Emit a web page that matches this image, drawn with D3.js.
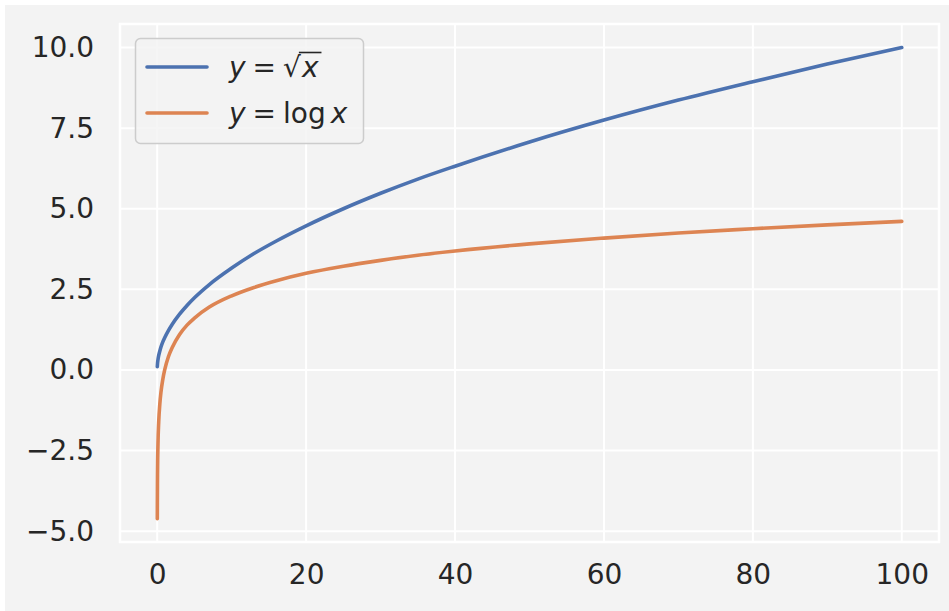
<!DOCTYPE html>
<html>
<head>
<meta charset="utf-8">
<title>sqrt and log</title>
<script src="https://cdn.jsdelivr.net/npm/d3@7"></script>
<style>
  body { margin: 0; background: #ffffff; }
  text { font-family: "DejaVu Sans", sans-serif; fill: #262626; }
</style>
</head>
<body>
<div id="chart"></div>
<script>
// values
var xs      = [0.01, 0.03, 0.1, 0.2, 0.35, 0.5, 0.75, 1, 1.5, 2, 3, 4, 5, 7, 10, 13, 16, 20, 25, 30, 35, 40, 50, 60, 70, 80, 90, 100];
var sqrtY   = [0.1, 0.17, 0.32, 0.45, 0.59, 0.71, 0.87, 1, 1.22, 1.41, 1.73, 2, 2.24, 2.65, 3.16, 3.61, 4, 4.47, 5, 5.48, 5.92, 6.32, 7.07, 7.75, 8.37, 8.94, 9.49, 10];
var logY    = [-4.61, -3.51, -2.3, -1.61, -1.05, -0.69, -0.29, 0, 0.41, 0.69, 1.1, 1.39, 1.61, 1.95, 2.3, 2.56, 2.77, 3.0, 3.22, 3.4, 3.56, 3.69, 3.91, 4.09, 4.25, 4.38, 4.5, 4.61];
var xTicks  = [0, 20, 40, 60, 80, 100];
var yTicks  = [-5, -2.5, 0, 2.5, 5, 7.5, 10];

var W = 949, H = 611;
var plotL = 120, plotR = 939, plotT = 24, plotB = 542;

var svg = d3.select("#chart").append("svg")
    .attr("width", W)
    .attr("height", H);

// figure + axes background
svg.append("rect").attr("x", 5).attr("y", 5).attr("width", W - 5).attr("height", H - 5).attr("fill", "#f3f3f3");
svg.append("rect")
    .attr("x", plotL).attr("y", plotT)
    .attr("width", plotR - plotL).attr("height", plotB - plotT)
    .attr("fill", "#f3f3f3")
    .attr("stroke", "#ffffff")
    .attr("stroke-width", 2.5);

var x = d3.scaleLinear().domain([-5.0, 105.0]).range([plotL, plotR]);
var y = d3.scaleLinear().domain([-5.335, 10.73]).range([plotB, plotT]);

// grid
svg.append("g").selectAll("line").data(xTicks).enter().append("line")
    .attr("x1", function(d) { return x(d); }).attr("x2", function(d) { return x(d); })
    .attr("y1", plotT).attr("y2", plotB)
    .attr("stroke", "#ffffff").attr("stroke-width", 2);
svg.append("g").selectAll("line").data(yTicks).enter().append("line")
    .attr("x1", plotL).attr("x2", plotR)
    .attr("y1", function(d) { return y(d); }).attr("y2", function(d) { return y(d); })
    .attr("stroke", "#ffffff").attr("stroke-width", 2);

// axes (ticks hidden, labels only)
var fmtY = function(d) { return d3.format(".1f")(d).replace("-", "\u2212"); };
var gx = svg.append("g")
    .attr("transform", "translate(0," + plotB + ")")
    .call(d3.axisBottom(x).tickValues(xTicks).tickSize(0).tickPadding(22));
var gy = svg.append("g")
    .attr("transform", "translate(" + plotL + ",0)")
    .call(d3.axisLeft(y).tickValues(yTicks).tickFormat(fmtY).tickSize(0).tickPadding(26));
[gx, gy].forEach(function(g) {
  g.select(".domain").remove();
  g.selectAll("text")
    .style("font-family", "DejaVu Sans")
    .style("font-size", "28px")
    .attr("fill", "#262626");
});

// lines
var sqrtData = xs.map(function(d, i) { return [d, sqrtY[i]]; });
var logData  = xs.map(function(d, i) { return [d, logY[i]]; });
var line = d3.line()
    .x(function(d) { return x(d[0]); })
    .y(function(d) { return y(d[1]); })
    .curve(d3.curveMonotoneX);

svg.append("path").datum(sqrtData)
    .attr("d", line).attr("fill", "none")
    .attr("stroke", "#4c72b0").attr("stroke-width", 3.6).attr("stroke-linecap", "round");
svg.append("path").datum(logData)
    .attr("d", line).attr("fill", "none")
    .attr("stroke", "#dd8452").attr("stroke-width", 3.6).attr("stroke-linecap", "round");

// legend
var lg = svg.append("g");
lg.append("rect")
    .attr("x", 135.5).attr("y", 38.5).attr("width", 228).attr("height", 105)
    .attr("rx", 5)
    .attr("fill", "#f3f3f3").attr("fill-opacity", 0.8)
    .attr("stroke", "#cccccc").attr("stroke-width", 1.5);

var items = [{color: "#4c72b0", y: 67}, {color: "#dd8452", y: 113}];
items.forEach(function(it) {
  lg.append("line")
    .attr("x1", 147).attr("x2", 207).attr("y1", it.y).attr("y2", it.y)
    .attr("stroke", it.color).attr("stroke-width", 3.6).attr("stroke-linecap", "round");
});

// y = sqrt(x)
var t1 = lg.append("text").attr("x", 229).attr("y", 77).style("font-size", "28px");
t1.append("tspan").style("font-style", "italic").text("y");
t1.append("tspan").attr("dx", 7).text("=");
t1.append("tspan").attr("dx", 7).text("\u221a");
t1.append("tspan").attr("dx", 1).style("font-style", "italic").text("x");
// overbar over the radicand
var n1 = t1.node();
var c1 = n1.getExtentOfChar(n1.getNumberOfChars() - 2);
var c2 = n1.getExtentOfChar(n1.getNumberOfChars() - 1);
lg.append("line")
    .attr("x1", c1.x + c1.width - 2).attr("x2", c2.x + c2.width + 3)
    .attr("y1", 52.5).attr("y2", 52.5)
    .attr("stroke", "#262626").attr("stroke-width", 1.6);

// y = log x
var t2 = lg.append("text").attr("x", 229).attr("y", 123).style("font-size", "28px");
t2.append("tspan").style("font-style", "italic").text("y");
t2.append("tspan").attr("dx", 7).text("=");
t2.append("tspan").attr("dx", 7).text("log");
t2.append("tspan").attr("dx", 5).style("font-style", "italic").text("x");
</script>
</body>
</html>
